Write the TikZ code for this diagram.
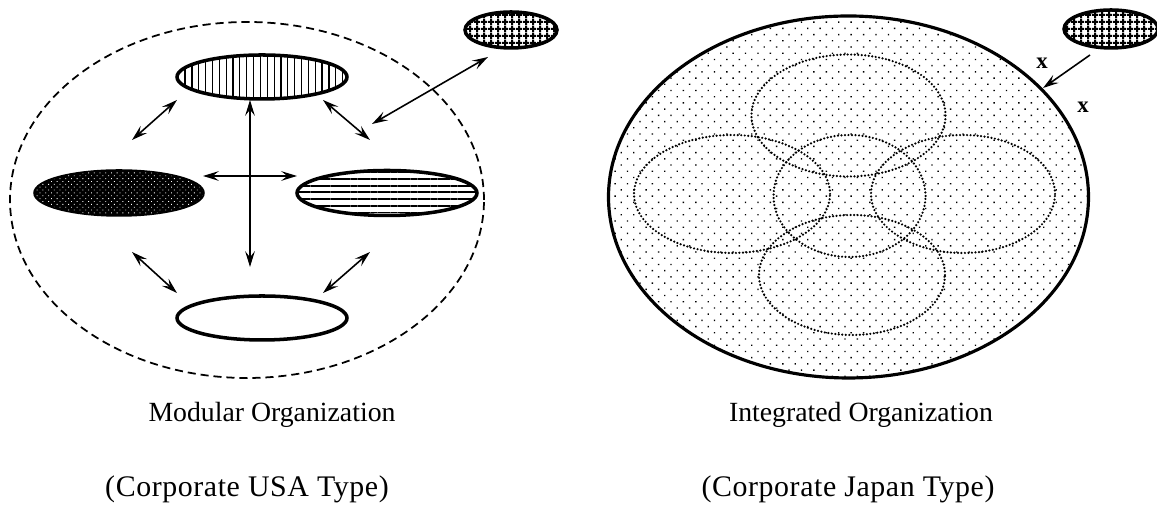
\documentclass[tikz,border=0pt]{standalone}
\usepackage{fontspec}
\setmainfont{Liberation Serif}
\usetikzlibrary{arrows.meta,patterns.meta,shapes.geometric}
\begin{document}
\begin{tikzpicture}[scale=1.0]
\tikzstyle{unit}=[ellipse,draw,line width=2pt,inner sep=0pt]
\tikzstyle{link}=[line width=0.9pt,{Stealth[length=9pt,width=5.5pt,inset=3.5pt]}-{Stealth[length=9pt,width=5.5pt,inset=3.5pt]}]
\tikzstyle{overlap}=[line width=1.4pt,line cap=round,dash pattern=on 0pt off 2pt]
\tikzstyle{caption}=[font=\fontsize{15.8}{19}\selectfont]
\tikzstyle{subcaption}=[font=\fontsize{17}{20}\selectfont\addfontfeature{LetterSpace=2}]
\useasboundingbox (0,0) rectangle (23.14,10.26);
% modular organization
\draw [line width=1pt,dash pattern=on 4.6pt off 2.8pt] (4.94,6.26) ellipse (4.74 and 3.56);
\node[unit,minimum width=3.4cm,minimum height=0.88cm,
  pattern={Lines[angle=90,distance=3.9pt,line width=0.7pt]}] (N) at (5.24,8.72) {};
\node[unit,minimum width=3.36cm,minimum height=0.88cm,fill=black,
  postaction={pattern={Dots[angle=45,distance=2.3pt,radius=0.35pt]},pattern color=white}] (W) at (2.38,6.40) {};
\node[unit,minimum width=3.6cm,minimum height=0.9cm,
  pattern={Lines[angle=0,distance=3.8pt,line width=1.1pt]}] (E) at (7.74,6.40) {};
\node[unit,minimum width=3.4cm,minimum height=0.88cm] (S) at (5.24,3.90) {};
\node[unit,minimum width=1.84cm,minimum height=0.72cm,
  pattern={Hatch[angle=0,distance=4pt,line width=1.3pt]}] (out) at (10.22,9.66) {};
\coordinate (v1) at (5.00,8.26);
\coordinate (v2) at (5.00,4.92);
\coordinate (h1) at (4.06,6.74);
\coordinate (h2) at (5.94,6.74);
\coordinate (nw1) at (3.54,8.26);
\coordinate (nw2) at (2.64,7.46);
\coordinate (ne1) at (6.46,8.26);
\coordinate (ne2) at (7.40,7.46);
\coordinate (sw1) at (2.64,5.22);
\coordinate (sw2) at (3.54,4.40);
\coordinate (se1) at (7.40,5.22);
\coordinate (se2) at (6.46,4.40);
\coordinate (o1) at (7.44,7.78);
\coordinate (o2) at (9.76,9.12);
\foreach \a/\b in {v1/v2,h1/h2,nw1/nw2,ne1/ne2,sw1/sw2,se1/se2,o1/o2}
  \draw [link] (\a) -- (\b);
\node[caption] (mod) at (5.44,1.96) {Modular Organization};
\node[subcaption] (usa) at (4.94,0.48) {(Corporate USA Type)};
% integrated organization
\draw [line width=1.8pt,pattern={Dots[angle=45,distance=5pt,radius=0.55pt]}] (16.97,6.32) ellipse (4.8 and 3.62);
\draw [overlap] (16.97,7.95) ellipse (1.94 and 1.22);
\draw [overlap] (14.64,6.38) ellipse (1.96 and 1.18);
\draw [overlap] (16.99,6.34) ellipse (1.52 and 1.22);
\draw [overlap] (19.26,6.38) ellipse (1.84 and 1.18);
\draw [overlap] (17.04,4.76) ellipse (1.86 and 1.20);
\node[unit,minimum width=1.88cm,minimum height=0.76cm,
  pattern={Hatch[angle=0,distance=4pt,line width=1.3pt]}] (outJ) at (22.22,9.68) {};
\coordinate (j1) at (21.80,9.16);
\coordinate (j2) at (20.86,8.50);
\draw [line width=0.9pt,-{Stealth[length=9pt,width=5.5pt,inset=3.5pt]}] (j1) -- (j2);
\node[font=\fontsize{13}{15}\selectfont\bfseries] (x1) at (20.84,9.00) {x};
\node[font=\fontsize{13}{15}\selectfont\bfseries] (x2) at (21.66,8.12) {x};
\node[caption] (int) at (17.22,1.96) {Integrated Organization};
\node[subcaption] (jpn) at (16.96,0.48) {(Corporate Japan Type)};
\end{tikzpicture}
\end{document}
